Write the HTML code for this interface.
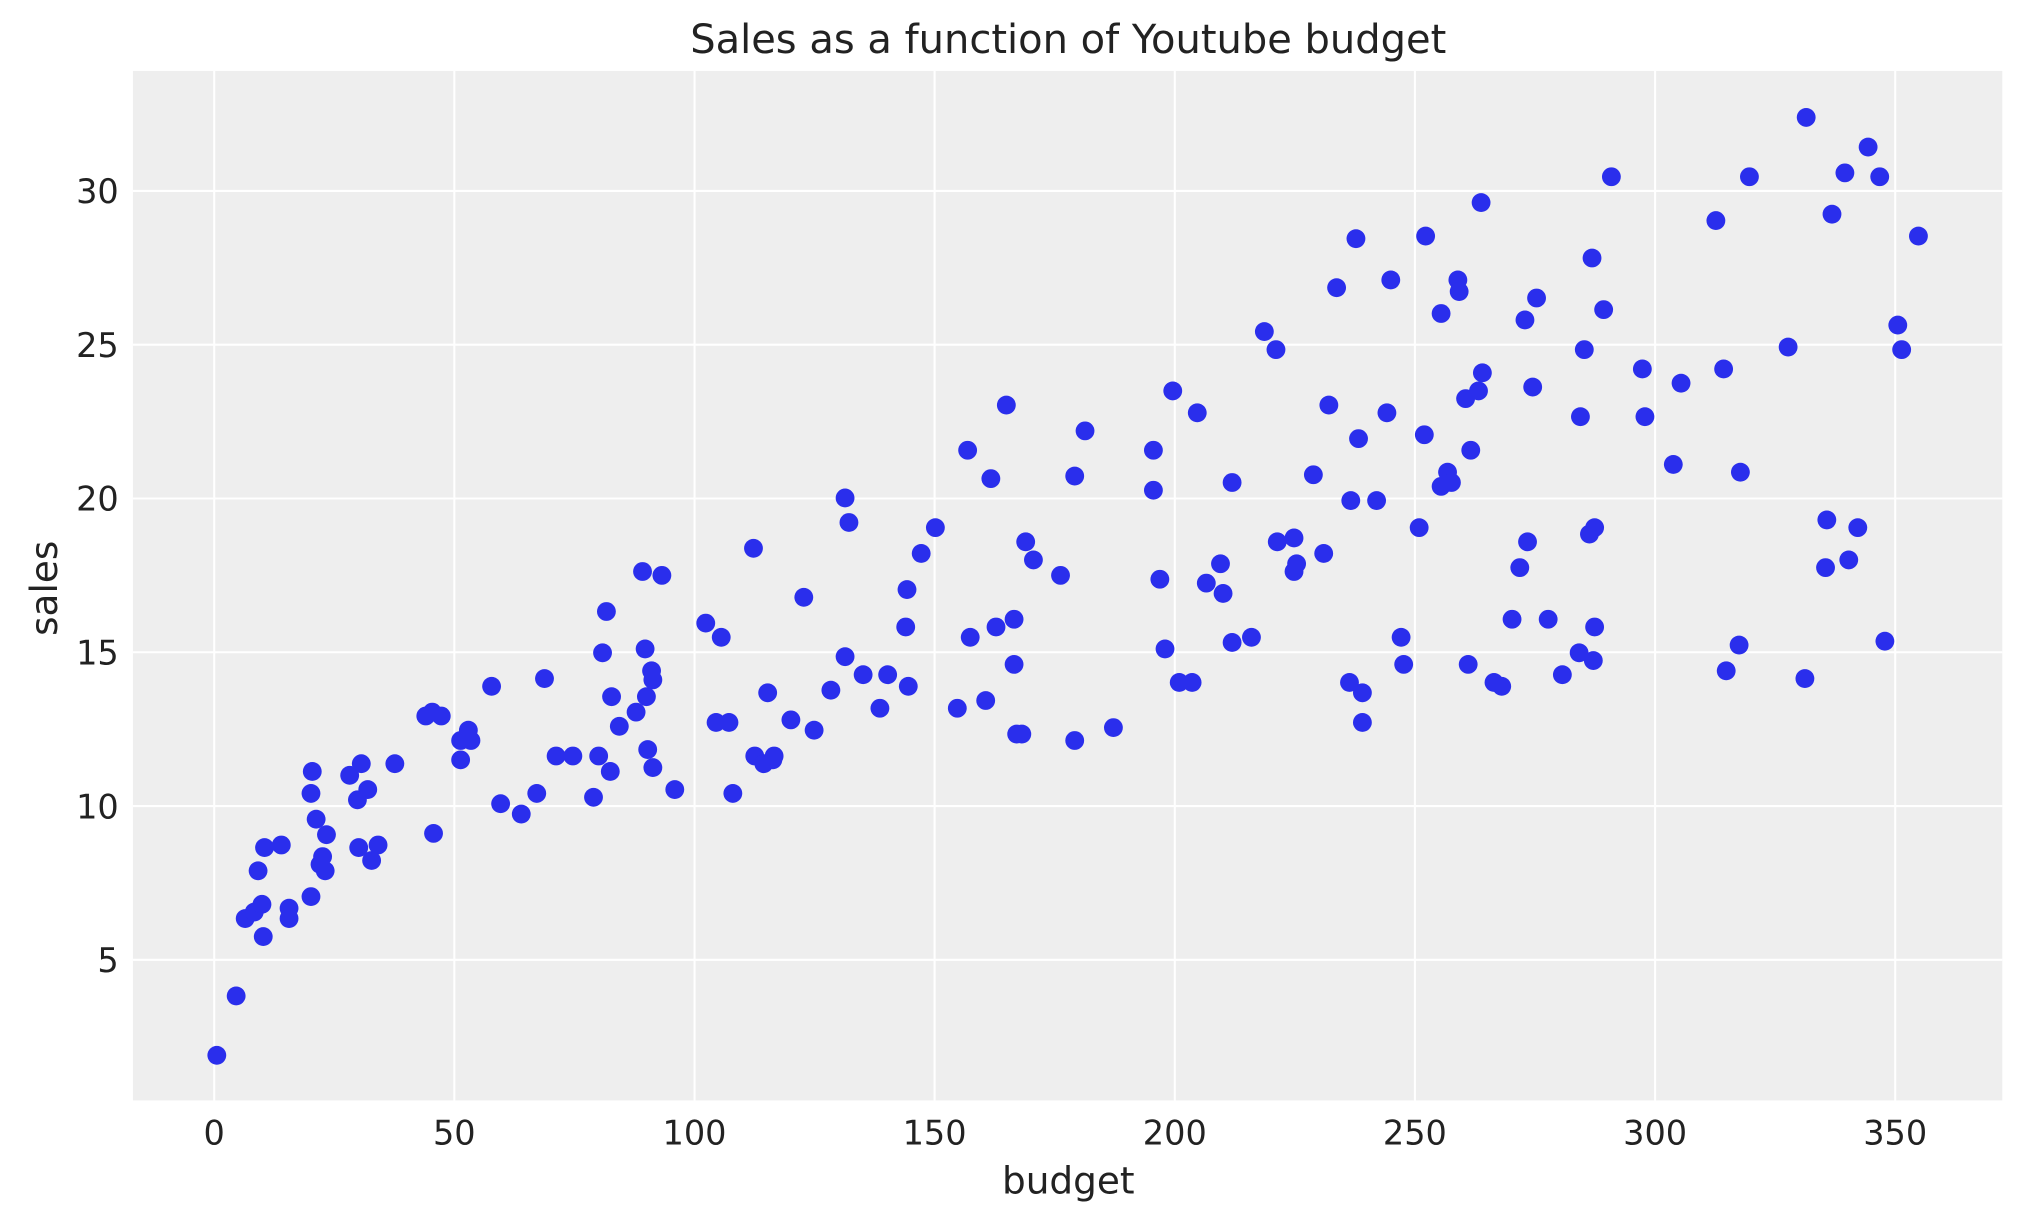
<!DOCTYPE html>
<html><head><meta charset="utf-8"><style>html,body{margin:0;padding:0;background:#fff}svg{display:block}</style></head>
<body>
<svg width="2023" height="1223" viewBox="0 0 1568 948" xmlns="http://www.w3.org/2000/svg" font-family="DejaVu Sans, Liberation Sans, sans-serif" fill="#222">
<rect x="103" y="55" width="1449" height="798" fill="#eeeeee"/>
<g stroke="#fff" stroke-width="1.6">
<line x1="166" y1="55" x2="166" y2="853"/><line x1="352.1" y1="55" x2="352.1" y2="853"/><line x1="538.3" y1="55" x2="538.3" y2="853"/><line x1="724.4" y1="55" x2="724.4" y2="853"/><line x1="910.6" y1="55" x2="910.6" y2="853"/><line x1="1096.7" y1="55" x2="1096.7" y2="853"/><line x1="1282.9" y1="55" x2="1282.9" y2="853"/><line x1="1469" y1="55" x2="1469" y2="853"/>
<line x1="103" y1="744" x2="1552" y2="744"/><line x1="103" y1="624.8" x2="1552" y2="624.8"/><line x1="103" y1="505.6" x2="1552" y2="505.6"/><line x1="103" y1="386.4" x2="1552" y2="386.4"/><line x1="103" y1="267.2" x2="1552" y2="267.2"/><line x1="103" y1="148" x2="1552" y2="148"/>
</g>
<g font-size="26" text-anchor="middle">
<text x="166" y="887">0</text><text x="352.1" y="887">50</text><text x="538.3" y="887">100</text><text x="724.4" y="887">150</text><text x="910.6" y="887">200</text><text x="1096.7" y="887">250</text><text x="1282.9" y="887">300</text><text x="1469" y="887">350</text>
</g>
<g font-size="26" text-anchor="end">
<text x="92" y="753.5">5</text><text x="92" y="634.3">10</text><text x="92" y="515.1">15</text><text x="92" y="395.9">20</text><text x="92" y="276.7">25</text><text x="92" y="157.5">30</text>
</g>
<text x="828" y="925" font-size="29" text-anchor="middle">budget</text>
<text transform="translate(44,456) rotate(-90)" font-size="29" text-anchor="middle">sales</text>
<text x="828" y="41" font-size="31" text-anchor="middle">Sales as a function of Youtube budget</text>
<g fill="#2a2eec" id="pts"></g>
</svg>
<script>
var p=[168,818,183,772,190,712,197,707,200,675,203,701,204,726,205,657,218,655,224,712,224,704,241,695,241,615,242,598,245,635,248,670,250,664,252,675,253,647,271,601,277,620,278,657,280,592,285,612,288,667,293,655,306,592,330,555,335,552,342,555,336,646,357,589,357,574,363,566,365,574,381,532,388,623,404,631,416,615,422,526,431,586,444,586,460,618,464,586,467,506,470,474,473,598,474,540,480,563,493,552,500,503,501,540,502,581,505,520,506,527,506,595,513,446,498,443,523,612,547,483,555,560,559,494,565,560,568,615,584,425,585,586,592,592,595,537,599,589,600,586,613,558,623,463,631,566,644,535,655,386,655,509,658,405,669,523,682,549,688,523,702,486,703,457,704,532,714,429,725,409,742,549,750,349,752,494,764,543,768,371,772,486,780,314,786,480,786,515,788,569,792,569,795,420,801,434,822,446,833,574,833,369,841,334,863,564,894,349,894,380,899,449,903,503,909,303,914,529,924,529,928,320,935,452,946,437,948,460,955,374,955,498,970,494,980,257,989,271,990,420,1003,443,1003,417,1005,437,1018,368,1026,429,1030,314,1036,223,1046,529,1047,388,1051,185,1053,340,1056,537,1056,560,1067,388,1075,320,1078,217,1086,494,1088,515,1100,409,1104,337,1105,183,1117,243,1117,377,1122,366,1125,374,1130,217,1131,226,1136,309,1138,515,1140,349,1146,303,1148,157,1149,289,1158,529,1164,532,1172,480,1178,440,1182,248,1184,420,1188,300,1191,231,1200,480,1211,523,1224,506,1225,323,1228,271,1232,414,1234,200,1236,486,1235,512,1236,409,1243,240,1249,137,1273,286,1275,323,1297,360,1303,297,1330,171,1336,286,1338,520,1348,500,1349,366,1356,137,1386,269,1399,526,1400,91,1416,403,1415,440,1420,166,1430,134,1433,434,1440,409,1448,114,1457,137,1461,497,1471,252,1474,271,1487,183];
var g=document.getElementById('pts'),s='';
for(var i=0;i<p.length;i+=2){s+='<circle cx="'+p[i]+'" cy="'+p[i+1]+'" r="7.3"/>';}
g.innerHTML=s;
</script>
</body></html>
